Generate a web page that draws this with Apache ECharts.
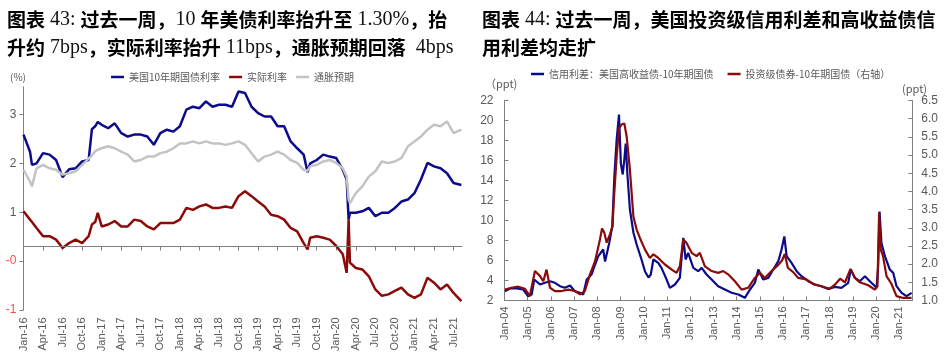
<!DOCTYPE html>
<html><head><meta charset="utf-8">
<script src="https://cdn.jsdelivr.net/npm/echarts@6/dist/echarts.min.js"></script>
<style>html,body{margin:0;padding:0;background:#fff}#c{width:950px;height:361px}</style>
</head><body><div id="c"></div>
<script>
// ---------- Left chart (图表43) : months since Jan-2016 ----------
const lMonths = [0,1,1.3,2,3,4,5,6,7,8,9,10,10.5,11,11.4,12,13,14,15,16,17,18,19,20,21,22,23,24,25,26,27,28,29,30,31,32,33,34,35,36,37,38,39,40,41,42,43,43.6,44,45,46,47,48,49,49.6,49.9,50.1,51,52,53,54,55,56,57,58,59,60,61,62,63,64,65,66,67.2];
const us10y = [2.59,2.24,1.97,2.0,2.21,2.18,2.07,1.72,1.88,1.90,2.04,2.07,2.70,2.76,2.85,2.79,2.72,2.82,2.62,2.55,2.59,2.59,2.55,2.38,2.62,2.69,2.65,2.76,3.10,3.16,3.13,3.27,3.16,3.20,3.20,3.16,3.47,3.44,3.16,3.03,2.96,2.96,2.76,2.76,2.45,2.31,2.18,1.82,2.0,2.07,2.18,2.14,2.11,1.87,1.67,0.85,0.99,0.99,1.02,1.09,0.92,0.99,0.99,1.09,1.22,1.26,1.39,1.67,2.01,1.94,1.90,1.80,1.60,1.56];
const realRate = [1.02,0.85,0.80,0.68,0.51,0.51,0.44,0.27,0.37,0.44,0.37,0.51,0.75,0.80,0.99,0.71,0.75,0.82,0.71,0.71,0.85,0.82,0.71,0.65,0.78,0.78,0.78,0.85,1.09,1.05,1.12,1.16,1.09,1.09,1.12,1.09,1.33,1.43,1.33,1.22,1.12,0.95,0.92,0.85,0.68,0.61,0.37,0.24,0.48,0.51,0.48,0.44,0.31,0.14,-0.24,0.85,-0.03,-0.14,-0.17,-0.31,-0.58,-0.71,-0.68,-0.61,-0.54,-0.68,-0.75,-0.68,-0.34,-0.44,-0.58,-0.48,-0.65,-0.82];
const breakeven = [1.87,1.63,1.53,1.90,1.97,1.90,1.87,1.77,1.80,1.84,1.97,2.10,2.16,2.25,2.28,2.31,2.35,2.31,2.24,2.18,2.04,2.07,2.14,2.14,2.21,2.24,2.31,2.41,2.41,2.45,2.41,2.45,2.41,2.41,2.38,2.41,2.45,2.38,2.21,2.04,2.14,2.18,2.24,2.18,2.07,2.01,1.87,1.85,1.94,1.97,2.04,2.07,2.01,1.90,1.73,1.26,1.19,1.39,1.53,1.73,1.84,2.04,2.01,2.04,2.11,2.35,2.45,2.55,2.69,2.79,2.76,2.86,2.62,2.69];
const lXTicks = [0,3,6,9,12,15,18,21,24,27,30,33,36,39,42,45,48,51,54,57,60,63,66];
const lYTicks = [-1,0,1,2,3];
const lAxisCross = 0.3;   // level where the date axis crosses the left value axis
const quarterNames = ['Jan','Apr','Jul','Oct'];
const lNames = ['美国10年期国债利率','实际利率','通胀预期'];

// ---------- Right chart (图表44) : years since Jan-2004 ----------
const hyT = [0.02,0.24,0.52,0.81,1.01,1.17,1.28,1.35,1.53,1.74,1.96,2.17,2.39,2.6,2.82,3.03,3.25,3.39,3.54,3.75,3.9,4.04,4.25,4.33,4.51,4.64,4.73,4.83,4.93,5.01,5.09,5.16,5.22,5.29,5.4,5.55,5.69,5.9,6.05,6.2,6.3,6.41,6.62,6.76,6.98,7.12,7.34,7.55,7.7,7.8,7.91,8.13,8.34,8.49,8.7,8.92,9.2,9.49,9.78,10.07,10.35,10.57,10.78,10.93,11.14,11.36,11.57,11.79,11.93,12.05,12.15,12.36,12.58,12.79,13.08,13.36,13.65,13.94,14.23,14.51,14.8,14.91,15.09,15.3,15.52,15.73,15.88,16.02,16.09,16.15,16.23,16.38,16.59,16.74,16.88,17.1,17.31,17.53];
const hyV = [2.93,3.2,3.2,3.1,2.43,2.6,4.1,4.27,3.6,3.77,3.93,3.77,3.43,3.27,3.5,2.93,2.77,2.6,4.1,4.6,5.6,6.43,7.1,5.9,7.76,9.4,14.4,18.1,20.6,15.7,14.6,16.1,17.7,14.7,11.1,8.8,7.6,6.1,4.9,4.3,4.6,6.1,5.76,5.26,4.1,3.26,3.6,4.26,8.26,6.1,6.76,5.26,4.93,5.26,4.6,4.1,3.43,3.1,2.77,2.6,2.27,3.1,3.76,5.1,4.1,4.26,5.1,5.93,7.1,8.4,6.43,5.76,4.93,4.43,3.93,3.6,3.43,3.16,3.36,3.26,3.76,5.1,4.26,3.93,4.43,3.93,3.6,3.26,5.43,10.9,7.76,6.43,5.1,4.76,3.43,2.77,2.43,2.77];
const igT = [0.02,0.3,0.59,0.88,1.09,1.31,1.53,1.67,1.81,1.96,2.17,2.46,2.75,3.03,3.25,3.46,3.68,3.9,4.11,4.2,4.3,4.4,4.54,4.65,4.71,4.83,4.93,5.04,5.16,5.26,5.4,5.55,5.69,5.83,6.05,6.26,6.41,6.62,6.91,7.2,7.41,7.55,7.7,7.84,8.06,8.27,8.41,8.63,8.92,9.2,9.42,9.63,9.92,10.21,10.49,10.78,11.0,11.21,11.5,11.79,11.95,12.07,12.2,12.43,12.65,13.0,13.3,13.6,14.0,14.25,14.45,14.66,14.9,15.09,15.3,15.66,15.95,16.06,16.13,16.2,16.3,16.45,16.66,16.88,17.17,17.53];
const igV = [1.30,1.35,1.38,1.32,1.12,1.81,1.67,1.53,1.85,1.35,1.26,1.26,1.30,1.26,1.17,1.26,1.72,2.08,2.68,2.98,2.86,2.59,2.82,3.04,3.78,4.96,5.73,5.84,5.87,5.51,4.60,3.31,2.95,2.72,2.40,2.17,2.27,2.17,1.99,1.85,1.76,1.94,2.68,2.58,2.31,2.22,2.31,1.94,1.81,1.76,1.81,1.72,1.53,1.30,1.35,1.62,1.76,1.62,1.81,1.98,2.10,2.28,1.90,1.78,1.62,1.58,1.45,1.40,1.32,1.45,1.60,1.50,1.87,1.62,1.50,1.42,1.30,1.39,3.41,2.40,2.22,1.67,1.46,1.12,1.07,1.07];
const rXTicks = [0,1,2,3,4,5,6,7,8,9,10,11,12,13,14,15,16,17];
const rNames = ['信用利差：美国高收益债-10年期国债','投资级债券-10年期国债（右轴）'];

const BLUE = '#0b0b8c', RED = '#8b0a0a', GRAY = '#c3c3c3';
const AX = '#7f7f7f', TXT = '#595959';
const SANS = '"Liberation Sans", Arial, sans-serif';
const CJK = '"Noto Sans CJK SC", sans-serif';
const SERIF = '"Liberation Serif", "DejaVu Serif", serif';

const chart = echarts.init(document.getElementById('c'), null, {renderer: 'canvas'});

const titleRich = {
  b: {fontFamily: CJK, fontWeight: 'bold', fontSize: 19, color: '#000', lineHeight: 28},
  n: {fontFamily: SERIF, fontWeight: 'normal', fontSize: 20, color: '#111', lineHeight: 28}
};

function axisCommon() {
  return {
    axisLine: {show: true, onZero: false, lineStyle: {color: AX, width: 1}},
    splitLine: {show: false}
  };
}
function baseLine(level) {
  return {silent: true, symbol: 'none', animation: false, label: {show: false},
          lineStyle: {color: AX, width: 1, type: 'solid'}, emphasis: {disabled: true},
          data: [{yAxis: level}]};
}
const leftXLabel = v => quarterNames[Math.round(v / 3) % 4] + '-' + (16 + Math.floor(Math.round(v) / 12));

const option = {
  animation: false,
  backgroundColor: '#fff',
  title: [
    {left: 7, top: 6, padding: 0,
     text: '{b|图表}{n| 43: }{b|过去一周，}{n|10 }{b|年美债利率抬升至}{n| 1.30%}{b|，抬}\n{b|升约}{n| 7bps}{b|，实际利率抬升}{n| 11bps}{b|，通胀预期回落}{n|  4bps}',
     textStyle: {rich: titleRich}},
    {left: 482, top: 6, padding: 0,
     text: '{b|图表}{n| 44: }{b|过去一周，美国投资级信用利差和高收益债信}\n{b|用利差均走扩}',
     textStyle: {rich: titleRich}}
  ],
  legend: [
    {data: lNames, left: 111, top: 72, padding: 0, icon: 'rect', itemWidth: 13, itemHeight: 2.5, itemGap: 9,
     textStyle: {fontFamily: CJK, fontSize: 10, color: TXT}},
    {data: rNames, left: 531, top: 69, padding: 0, icon: 'rect', itemWidth: 13, itemHeight: 2.5, itemGap: 14,
     textStyle: {fontFamily: CJK, fontSize: 10, color: TXT}}
  ],
  graphic: [
    {type: 'text', left: 10, top: 72, style: {text: '(%)', fontFamily: CJK, fontSize: 10, fill: TXT}},
    {type: 'text', left: 485, top: 78, style: {text: '（ppt)', fontFamily: CJK, fontSize: 11, fill: TXT}},
    {type: 'text', left: 902, top: 83, style: {text: '(ppt)', fontFamily: CJK, fontSize: 11, fill: TXT}}
  ],
  grid: [
    {left: 23.5, right: 488, top: 86.7, bottom: 51},
    {left: 504.5, right: 37.7, top: 100.5, bottom: 60.5},
    // helper grid: its bottom edge carries the left chart's date axis (crossing the y axis at ~0.3)
    {left: 23.5, right: 488, top: 86.7, bottom: 114.5}
  ],
  xAxis: [
    {gridIndex: 0, type: 'value', min: 0, max: 67.3, show: false, splitLine: {show: false}},
    Object.assign(axisCommon(), {
      gridIndex: 1, type: 'value', min: 0, max: 17.56, position: 'bottom',
      axisTick: {show: true, length: 4, inside: true, customValues: rXTicks, lineStyle: {color: AX}},
      axisLabel: {customValues: rXTicks, rotate: 90, margin: 6, fontFamily: SANS, fontSize: 11, color: TXT,
        formatter: v => 'Jan-' + String(4 + Math.round(v)).padStart(2, '0')}
    }),
    Object.assign(axisCommon(), {
      gridIndex: 2, type: 'value', min: 0, max: 67.3, position: 'bottom',
      axisTick: {show: true, length: 4, inside: false, customValues: lXTicks, lineStyle: {color: AX}},
      axisLabel: {customValues: lXTicks, rotate: 90, margin: 71, fontFamily: SANS, fontSize: 11, color: TXT,
        formatter: leftXLabel}
    })
  ],
  yAxis: [
    Object.assign(axisCommon(), {
      gridIndex: 0, type: 'value', min: -1, max: 3.57, interval: 1,
      axisTick: {show: true, length: 4, inside: false, customValues: lYTicks, lineStyle: {color: AX}},
      axisLabel: {customValues: lYTicks, margin: 7, fontFamily: SANS, fontSize: 12,
        formatter: v => {
          if (Math.abs(v - Math.round(v)) > 1e-6) return '';
          if (v < 0) return '{r|' + v + '}';
          if (v === 0) return '{r|-0}';
          return '{g|' + v + '}';
        },
        rich: {r: {color: '#ff4d4d', fontFamily: SANS, fontSize: 12}, g: {color: TXT, fontFamily: SANS, fontSize: 12}}}
    }),
    Object.assign(axisCommon(), {
      gridIndex: 1, type: 'value', min: 2, max: 22, interval: 2, position: 'left',
      axisTick: {show: true, length: 4, inside: true, lineStyle: {color: AX}},
      axisLabel: {margin: 11, fontFamily: SANS, fontSize: 12, color: TXT}
    }),
    Object.assign(axisCommon(), {
      gridIndex: 1, type: 'value', min: 1, max: 6.5, interval: 0.5, position: 'right',
      axisTick: {show: true, length: 4, inside: true, lineStyle: {color: AX}},
      axisLabel: {margin: 9, fontFamily: SANS, fontSize: 12, color: TXT, formatter: v => v.toFixed(1)}
    }),
    {gridIndex: 2, type: 'value', min: 0, max: 1, show: false, splitLine: {show: false}}
  ],
  series: [
    {name: lNames[0], type: 'line', xAxisIndex: 0, yAxisIndex: 0, showSymbol: false, color: BLUE, z: 3,
     lineStyle: {width: 2.5, color: BLUE}, data: lMonths.map((m, i) => [m, us10y[i]]),
     markLine: baseLine(lAxisCross)},
    {name: lNames[1], type: 'line', xAxisIndex: 0, yAxisIndex: 0, showSymbol: false, color: RED, z: 3,
     lineStyle: {width: 2.5, color: RED}, data: lMonths.map((m, i) => [m, realRate[i]])},
    {name: lNames[2], type: 'line', xAxisIndex: 0, yAxisIndex: 0, showSymbol: false, color: GRAY, z: 3,
     lineStyle: {width: 2.5, color: GRAY}, data: lMonths.map((m, i) => [m, breakeven[i]])},
    {name: rNames[0], type: 'line', xAxisIndex: 1, yAxisIndex: 1, showSymbol: false, color: BLUE, z: 3,
     lineStyle: {width: 2.2, color: BLUE}, data: hyT.map((t, i) => [t, hyV[i]]),
     markLine: baseLine(2)},
    {name: rNames[1], type: 'line', xAxisIndex: 1, yAxisIndex: 2, showSymbol: false, color: RED, z: 3,
     lineStyle: {width: 2.2, color: RED}, data: igT.map((t, i) => [t, igV[i]])},
    {type: 'line', xAxisIndex: 2, yAxisIndex: 3, silent: true, showSymbol: false, data: []}
  ]
};
chart.setOption(option);
</script>
</body></html>
